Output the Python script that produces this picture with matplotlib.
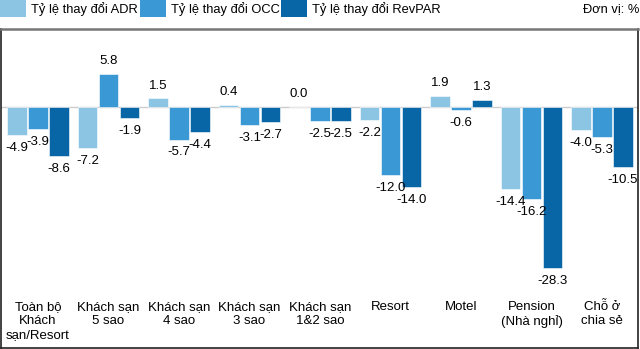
import numpy as np
import matplotlib
matplotlib.use("Agg")
import matplotlib.pyplot as plt
from matplotlib.patches import Rectangle

categories = ["Toàn bộ\nKhách\nsạn/Resort", "Khách sạn\n5 sao", "Khách sạn\n4 sao",
              "Khách sạn\n3 sao", "Khách sạn\n1&2 sao", "Resort", "Motel",
              "Pension\n(Nhà nghỉ)", "Chỗ ở\nchia sẻ"]
adr = [-4.9, -7.2, 1.5, 0.4, 0.0, -2.2, 1.9, -14.4, -4.0]
occ = [-3.9, 5.8, -5.7, -3.1, -2.5, -12.0, -0.6, -16.2, -5.3]
revpar = [-8.6, -1.9, -4.4, -2.7, -2.5, -14.0, 1.3, -28.3, -10.5]
series_names = ["Tỷ lệ thay đổi ADR", "Tỷ lệ thay đổi OCC", "Tỷ lệ thay đổi RevPAR"]
colors = ["#8cc4e3", "#3a98d4", "#0866a6"]
unit_text = "Đơn vị: %"

plt.rcParams['font.family'] = ['Liberation Sans', 'DejaVu Sans']

fig = plt.figure(figsize=(6.4, 3.49), dpi=100)
ax = fig.add_axes([1 / 640, 1 / 349, 637 / 640, 319 / 349])

x = np.arange(len(categories))
step = 0.298
width = 0.28
for k, vals in enumerate([adr, occ, revpar]):
    pos = x + (k - 1) * step
    ax.bar(pos, vals, width=width, color=colors[k], edgecolor="white", linewidth=0.4, zorder=2)
    for px, v in zip(pos, vals):
        if v >= 0:
            ax.annotate(f"{v:.1f}", (px, v), xytext=(0, 5), textcoords="offset points",
                        ha="center", va="bottom", fontsize=9.5)
        else:
            ax.annotate(f"{v:.1f}", (px, v), xytext=(0, -5), textcoords="offset points",
                        ha="center", va="top", fontsize=9.5)

ax.axhline(0, color="#cccccc", linewidth=1, zorder=1)
ax.set_xlim(-0.525, 8.51)
ax.set_ylim(-42.3, 13.7)
ax.set_xticks([])
ax.set_yticks([])
for s in ["left", "right", "bottom"]:
    ax.spines[s].set_color("#222222")
    ax.spines[s].set_linewidth(1.2)
ax.spines["top"].set_color("#777777")
ax.spines["top"].set_linewidth(1.8)

for i, c in enumerate(categories):
    ax.text(i, 0.147, c, transform=ax.get_xaxis_transform(), ha="center", va="top",
            fontsize=9.5, linespacing=1.2)

# legend along the top
leg_x = [0, 140, 281]
for k, name in enumerate(series_names):
    fig.add_artist(Rectangle((leg_x[k] / 640, 1 - 17 / 349), 26 / 640, 17 / 349,
                             transform=fig.transFigure, color=colors[k], lw=0))
    fig.text((leg_x[k] + 31) / 640, 1 - 9 / 349, name, ha="left", va="center", fontsize=9.3)
fig.text(639 / 640, 1 - 9 / 349, unit_text, ha="right", va="center", fontsize=9.3)

fig.savefig("out.png", dpi=100)
